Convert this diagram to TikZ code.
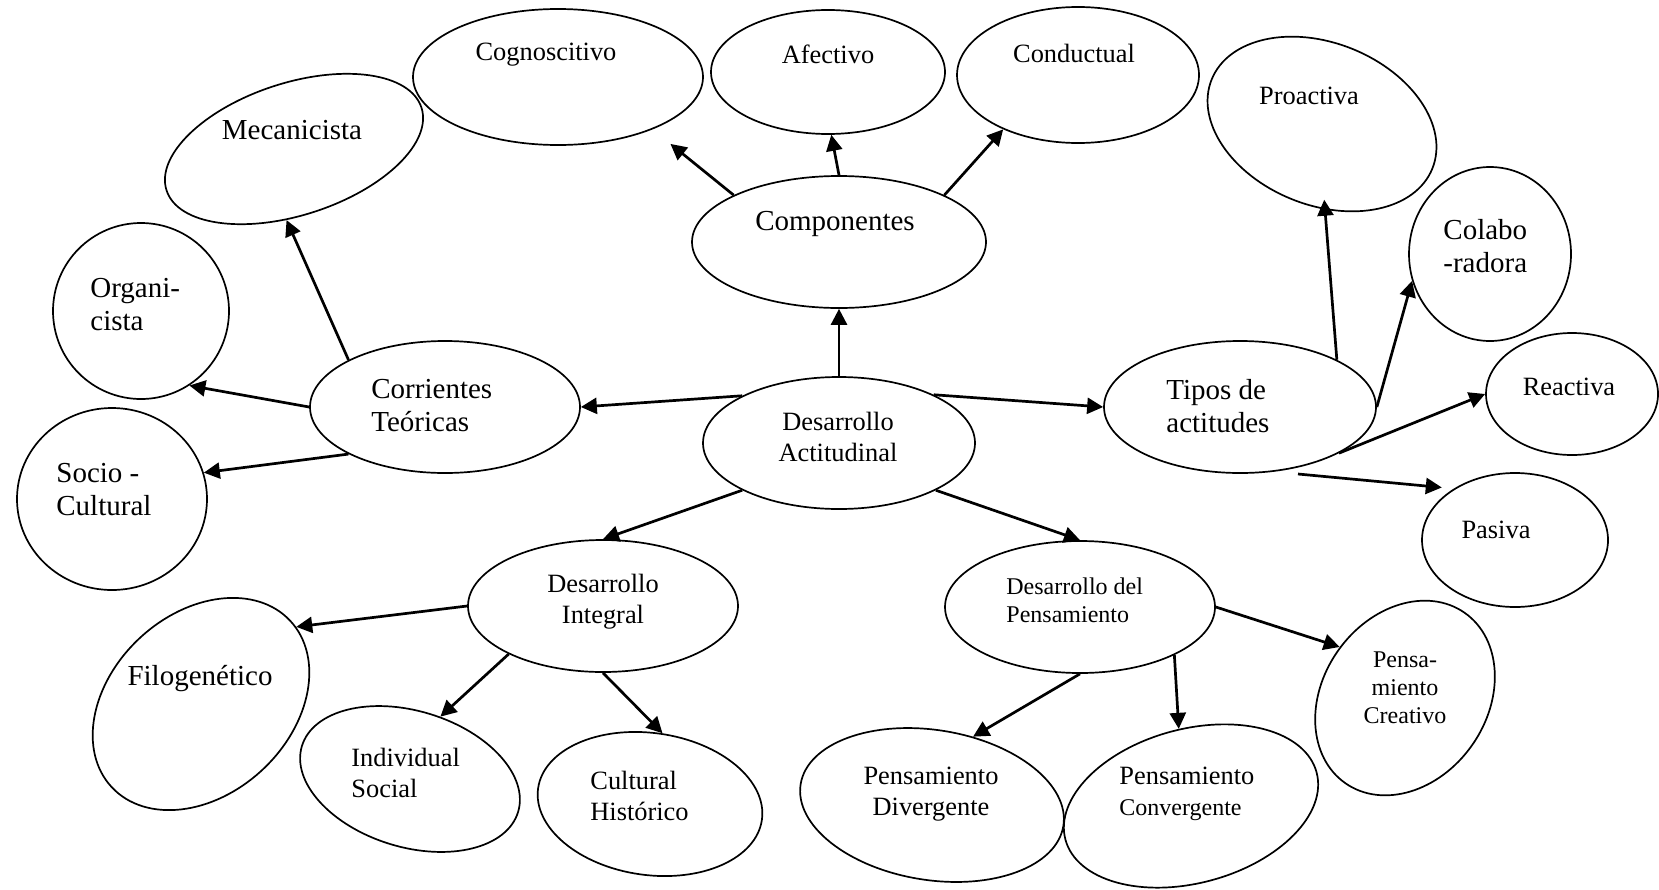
\documentclass[tikz,border=0pt]{standalone}
\usepackage{fontspec}
\setmainfont{Liberation Serif}
\usetikzlibrary{arrows.meta, shapes.geometric, calc}

\begin{document}
\begin{tikzpicture}[x=0.5pt, y=-0.5pt,
    bubble/.style={draw, ellipse, line width=0.85pt, inner sep=0pt},
    txt/.style={inner sep=0pt, align=center, font=\fontsize{13.2}{15.5}\selectfont},
    bigtxt/.style={txt, font=\fontsize{14.5}{16.5}\selectfont},
    smalltxt/.style={txt, font=\fontsize{12}{14}\selectfont},
    arr/.style={-{Triangle[length=8pt,width=8pt]}, line width=1.35pt}]
  \useasboundingbox (0,0) rectangle (1659,889);

  \node[bubble, minimum width=147pt, minimum height=66pt] (comp) at (839,242) {};
  \node[bubble, minimum width=145pt, minimum height=68pt] (cogn) at (558,77) {};
  \node[bubble, minimum width=117pt, minimum height=62pt] (afec) at (828,72) {};
  \node[bubble, minimum width=121pt, minimum height=68pt] (cond) at (1078,75) {};
  \node[bubble, minimum width=136pt, minimum height=66pt] (desact) at (839,443) {};
  \node[bubble, minimum width=135pt, minimum height=66pt] (corr) at (445,407) {};
  \node[bubble, minimum width=134pt, minimum height=66pt, rotate=18] (meca) at (294,149) {};
  \node[bubble, minimum width=88pt, minimum height=88pt] (orga) at (141,311) {};
  \node[bubble, minimum width=95pt, minimum height=91pt] (soci) at (112,499) {};
  \node[bubble, minimum width=136pt, minimum height=66pt] (tipo) at (1240,407) {};
  \node[bubble, minimum width=119pt, minimum height=81pt, rotate=-22] (proa) at (1322,124) {};
  \node[bubble, minimum width=81pt, minimum height=87pt] (cola) at (1490,254) {};
  \node[bubble, minimum width=86pt, minimum height=61pt] (reac) at (1572,394) {};
  \node[bubble, minimum width=93pt, minimum height=67pt] (pasi) at (1515,540) {};
  \node[bubble, minimum width=135pt, minimum height=66pt] (dint) at (603,606) {};
  \node[bubble, minimum width=122pt, minimum height=90pt, rotate=43] (filo) at (201,704) {};
  \node[bubble, minimum width=113pt, minimum height=68pt, rotate=-17] (indi) at (410,779) {};
  \node[bubble, minimum width=113pt, minimum height=71pt, rotate=-8] (cult) at (650,804) {};
  \node[bubble, minimum width=135pt, minimum height=66pt] (dpen) at (1080,607) {};
  \node[bubble, minimum width=104pt, minimum height=82pt, rotate=55] (crea) at (1405,698) {};
  \node[bubble, minimum width=133pt, minimum height=75pt, rotate=-9] (dive) at (932,805) {};
  \node[bubble, minimum width=130pt, minimum height=77pt, rotate=15] (conv) at (1191,806) {};

  \node[txt] (cognT) at (546,55) {Cognoscitivo};
  \node[txt] (afecT) at (828,54) {Afectivo};
  \node[txt] (condT) at (1074,53) {Conductual};
  \node[bigtxt] (compT) at (835,224) {Componentes};
  \node[bigtxt] (mecaT) at (292,130) {Mecanicista};
  \node[bigtxt, align=left, anchor=west] (orgaT) at (90,305) {Organi-\\cista};
  \node[bigtxt, align=left, anchor=west] (sociT) at (56,490) {Socio -\\Cultural};
  \node[bigtxt, align=left, anchor=west] (corrT) at (371,406) {Corrientes\\Teóricas};
  \node[txt] (desactT) at (838,437) {Desarrollo\\Actitudinal};
  \node[bigtxt, align=left, anchor=west] (tipoT) at (1166,406) {Tipos de\\actitudes};
  \node[txt] (proaT) at (1309,96) {Proactiva};
  \node[bigtxt, align=left, anchor=west] (colaT) at (1443,246) {Colabo\\-radora};
  \node[txt] (reacT) at (1569,387) {Reactiva};
  \node[txt] (pasiT) at (1496,530) {Pasiva};
  \node[txt] (dintT) at (603,602) {Desarrollo\\Integral};
  \node[bigtxt] (filoT) at (200,679) {Filogenético};
  \node[txt, align=left, anchor=west] (indiT) at (351,773) {Individual\\Social};
  \node[txt, align=left, anchor=west] (cultT) at (590,796) {Cultural\\Histórico};
  \node[smalltxt, align=left, anchor=west] (dpenT) at (1006,600) {Desarrollo del\\Pensamiento};
  \node[smalltxt] (creaT) at (1405,688) {Pensa-\\miento\\Creativo};
  \node[txt] (diveT) at (931,794) {Pensamiento\\Divergente};
  \node[txt, align=left, anchor=west] (convT) at (1119,794) {Pensamiento\\{\fontsize{12}{14}\selectfont Convergente}};

  \draw[arr] (desact.north) -- (comp.south);
  \draw[arr, shorten >=11.5pt] (comp.156) -- (cogn.-29);
  \draw[arr] (comp.north) -- (afec.-87);
  \draw[arr] (comp.24) -- (cond.-144);
  \draw[arr] (desact.154) -- (corr.east);
  \draw[arr] (corr.154) -- (meca.-114);
  \draw[arr] (corr.west) -- (orga.-57);
  \draw[arr] (corr.206) -- (soci.16);
  \draw[arr] (desact.27) -- (tipo.west);
  \draw[arr, shorten >=-5pt] (tipo.26) -- (proa.-66);
  \draw[arr] (tipo.east) -- (cola.-161);
  \draw[arr] (tipo.-25) -- (reac.west);
  \draw[arr, shorten >=6pt] ($(tipo.center)+(58,67)$) -- (pasi.140);
  \draw[arr] (desact.206) -- (dint.north);
  \draw[arr] (desact.-26) -- (dpen.north);
  \draw[arr] (dint.west) -- (filo.-4);
  \draw[arr] (dint.207) -- (indi.81);
  \draw[arr] (dint.south) -- (cult.88);
  \draw[arr] (dpen.south) -- (dive.68);
  \draw[arr] (dpen.-27) -- (conv.84);
  \draw[arr] (dpen.east) -- (crea.87);
\end{tikzpicture}
\end{document}
